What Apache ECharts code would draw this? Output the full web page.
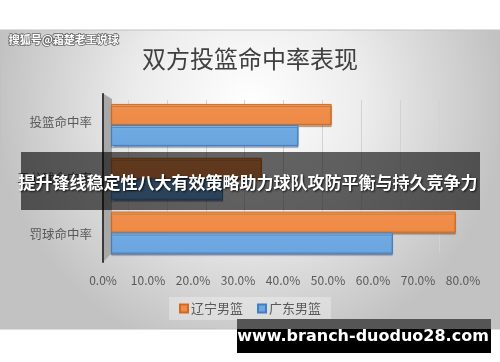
<!DOCTYPE html>
<html><head><meta charset="utf-8">
<script src="https://cdn.jsdelivr.net/npm/echarts@6/dist/echarts.min.js"></script>
<style>html,body{margin:0;padding:0;background:#fff}#c{width:500px;height:362px}</style>
</head><body><div id="c"></div>
<script>
const categories = ['罚球命中率', '三分球命中率', '投篮命中率'];
const liaoning = [80.0, 35.0, 51.2];
const guangdong = [65.4, 26.0, 43.5];
const tickValues = [0, 10, 20, 30, 40, 50, 60, 70, 80];
const seriesNames = ['辽宁男篮', '广东男篮'];
const titleText = '双方投篮命中率表现';
const bannerText = '提升锋线稳定性八大有效策略助力球队攻防平衡与持久竞争力';
const watermark = '搜狐号@霜楚老王说球';
const siteText = 'www.branch-duoduo28.com';

const CJK = '"Noto Sans CJK SC","Noto Sans",sans-serif';
const chart = echarts.init(document.getElementById('c'), null, {renderer: 'canvas'});
const fmt = v => v.toFixed(1) + '%';

chart.setOption({
  animation: false,
  backgroundColor: '#ffffff',
  textStyle: {fontFamily: CJK},
  title: {
    text: titleText, left: 'center', top: 42,
    textStyle: {fontSize: 24, fontWeight: 'normal', color: '#404040', fontFamily: CJK}
  },
  legend: {
    data: seriesNames, left: 'center', top: 297,
    itemWidth: 8, itemHeight: 8, itemGap: 14, icon: 'rect',
    backgroundColor: 'rgba(255,255,255,0.3)', padding: [5, 10],
    textStyle: {fontSize: 13, color: '#595959', fontFamily: CJK, padding: [0, 0, 0, -2]}
  },
  grid: [
    {left: 103, width: 360, top: 94, height: 168},
    {left: 111, width: 344.8, top: 98, height: 161.5},
    {left: 128, width: 311, top: 100, height: 152}
  ],
  xAxis: [
    {gridIndex: 0, type: 'value', min: 0, max: 80, interval: 10,
     axisLine: {show: false}, axisTick: {show: false}, splitLine: {show: false},
     axisLabel: {formatter: fmt, color: '#595959', fontSize: 12, margin: 12, fontFamily: CJK}},
    {gridIndex: 1, type: 'value', min: 0, max: 80, show: false},
    {gridIndex: 2, type: 'value', min: 0, max: 80, interval: 10,
     axisLine: {show: false}, axisTick: {show: false}, axisLabel: {show: false},
     splitLine: {show: true, lineStyle: {color: '#d2d2d2', width: 1}}}
  ],
  yAxis: [
    {gridIndex: 0, type: 'category', data: categories,
     axisLine: {show: true, lineStyle: {color: '#3a3a3a', width: 2}},
     axisTick: {show: false},
     axisLabel: {color: '#595959', fontSize: 12.5, margin: 11, fontFamily: CJK}},
    {gridIndex: 1, type: 'category', data: categories, show: false},
    {gridIndex: 2, type: 'category', data: categories, show: false}
  ],
  series: [
    {name: seriesNames[0], type: 'bar', xAxisIndex: 1, yAxisIndex: 1, data: liaoning,
     barWidth: 21, barGap: '0%',
     itemStyle: {
       color: new echarts.graphic.LinearGradient(0, 0, 0, 1, [
         {offset: 0, color: '#f6a664'}, {offset: 0.25, color: '#f08d4a'}, {offset: 1, color: '#ec8a46'}]),
       borderColor: '#d2691e', borderWidth: 1,
       shadowColor: 'rgba(120,60,10,0.45)', shadowOffsetY: 2, shadowOffsetX: 0, shadowBlur: 1}},
    {name: seriesNames[1], type: 'bar', xAxisIndex: 1, yAxisIndex: 1, data: guangdong,
     barWidth: 21, barGap: '0%',
     itemStyle: {
       color: new echarts.graphic.LinearGradient(0, 0, 0, 1, [
         {offset: 0, color: '#8cc0ee'}, {offset: 0.25, color: '#6fa9e2'}, {offset: 1, color: '#6aa5df'}]),
       borderColor: '#3f7fc2', borderWidth: 1,
       shadowColor: 'rgba(30,60,110,0.45)', shadowOffsetY: 2, shadowOffsetX: 0, shadowBlur: 1}}
  ],
  graphic: {elements: [
    {type: 'rect', z: -100, silent: true, shape: {x: 0, y: 30, width: 500, height: 299},
     style: {fill: new echarts.graphic.RadialGradient(0.5, 0.25, 0.85, [
       {offset: 0, color: '#ffffff'}, {offset: 0.45, color: '#ececec'}, {offset: 1, color: '#c2c2c2'}]),
       stroke: '#c0c0c0', lineWidth: 1}},
    {type: 'polygon', z: -50, silent: true,
     shape: {points: [[102, 93], [112, 99], [112, 253], [102, 263]]},
     style: {fill: '#a8a8a8'}},
    {type: 'text', z: 100, left: 8, top: 34, silent: true,
     style: {text: watermark, fill: '#ffffff', font: 'bold 11px "Noto Sans CJK SC"',
       stroke: '#666666', lineWidth: 1.5}},
    {type: 'rect', z: 100, silent: true, shape: {x: 21, y: 152, width: 459, height: 58},
     style: {fill: 'rgba(0,0,0,0.6)'}},
    {type: 'text', z: 101, silent: true, x: 248, y: 183,
     style: {text: bannerText, fill: '#ffffff', font: 'bold 17px "Noto Sans CJK SC"',
       align: 'center', verticalAlign: 'middle',
       textShadowColor: 'rgba(0,0,0,0.8)', textShadowBlur: 2, textShadowOffsetX: 1, textShadowOffsetY: 1}},
    {type: 'rect', z: 100, silent: true, shape: {x: 237, y: 319, width: 254, height: 10},
     style: {fill: '#555555'}},
    {type: 'rect', z: 100, silent: true, shape: {x: 237, y: 329, width: 254, height: 24},
     style: {fill: '#000000'}},
    {type: 'text', z: 101, silent: true, x: 363, y: 337,
     style: {text: siteText, fill: '#ffffff', font: 'bold 16px "DejaVu Sans"',
       align: 'center', verticalAlign: 'middle'}}
  ]}
});
</script></body></html>
